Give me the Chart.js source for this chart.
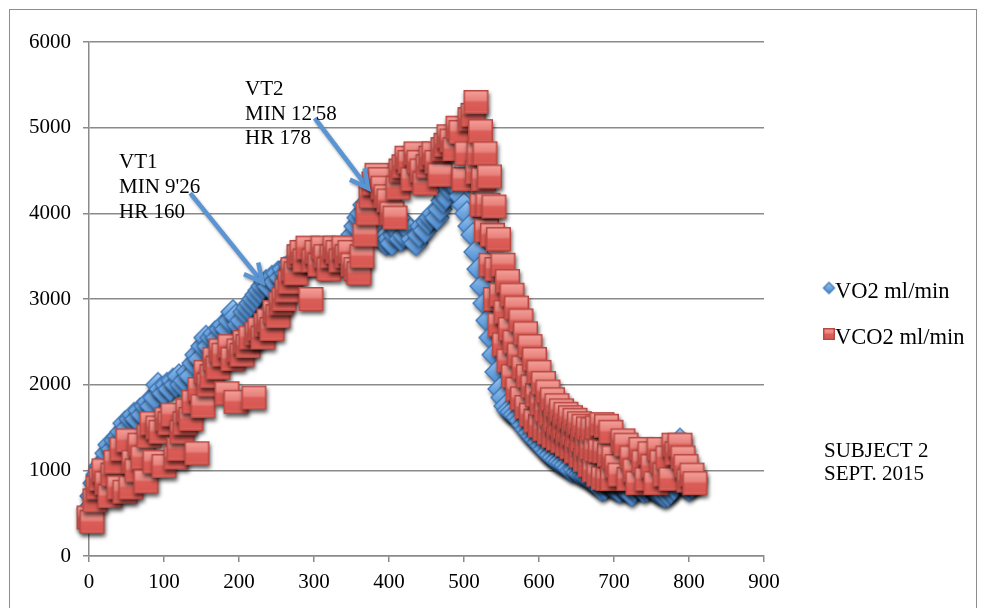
<!DOCTYPE html>
<html>
<head>
<meta charset="utf-8">
<script src="https://cdn.jsdelivr.net/npm/chart.js@4.4.1/dist/chart.umd.min.js"></script>
<style>
html,body{margin:0;padding:0;background:#fff;}
#wrap{width:987px;height:608px;position:relative;}
</style>
</head>
<body>
<div id="wrap"><canvas id="c" width="987" height="608"></canvas></div>
<script>
// ---- data (seconds, ml/min) ----
const timeVO2 = [
  0,4,8,12,16,20,24,28,32,36,
  40,44,48,52,56,60,64,68,72,76,
  80,84,88,92,96,100,104,108,112,116,
  120,124,128,132,136,140,144,148,152,156,
  160,164,168,172,176,180,184,188,192,196,
  200,204,208,212,216,220,224,228,232,236,
  240,244,248,252,256,260,264,268,272,276,
  280,284,288,292,296,300,304,308,312,316,
  320,324,328,332,336,340,344,348,352,356,
  360,364,368,372,376,380,384,388,392,396,
  400,404,408,412,416,420,424,428,432,436,
  440,444,448,452,456,460,464,468,472,476,
  480,484,488,492,496,500,504,508,512,516,
  520,524,528,532,536,540,544,548,552,556,
  560,564,568,572,576,580,584,588,592,596,
  600,604,608,612,616,620,624,628,632,636,
  640,644,648,652,656,660,664,668,672,676,
  680,684,688,692,696,700,704,708,712,716,
  720,724,728,732,736,740,744,748,752,756,
  760,764,768,772,776,780,784,788,792,796,
  800,804,808
];
const vo2 = [
  550,700,850,950,1050,1100,1200,1300,1250,1350,
  1400,1450,1550,1500,1600,1650,1600,1700,1650,1750,
  1800,1750,1850,2000,1950,1900,2000,1950,2050,2000,
  2100,2000,2050,2150,2100,2250,2350,2300,2450,2550,
  2450,2550,2600,2550,2650,2700,2650,2750,2850,2800,
  2700,2750,2850,2900,2950,3000,3050,3100,3150,3200,
  3150,3250,3200,3300,3250,3350,3300,3400,3350,3450,
  3400,3500,3450,3400,3500,3450,3550,3400,3500,3450,
  3500,3450,3550,3500,3450,3550,3600,3650,3750,3850,
  3950,4000,4100,4050,3950,3900,3850,3750,3700,3650,
  3700,3650,3750,3800,3700,3750,3850,3800,3700,3650,
  3750,3850,3800,3900,3950,4000,3950,4050,4150,4200,
  4300,4350,4400,4300,4200,4100,4000,3850,3750,3550,
  3350,3150,2950,2750,2550,2350,2150,1950,1850,1750,
  1700,1680,1650,1620,1580,1530,1480,1440,1400,1360,
  1330,1290,1250,1210,1180,1150,1120,1100,1080,1060,
  1030,1000,1010,980,960,950,930,900,880,860,
  820,780,800,850,830,800,780,760,800,780,
  750,720,780,820,800,760,780,820,790,760,
  740,720,700,720,760,800,850,1350,900,820,
  780,820,900
];
const timeVCO2 = [
  0,4,8,12,16,20,24,28,32,36,
  40,44,48,52,56,60,64,68,72,76,
  80,84,88,92,96,100,104,108,112,116,
  120,124,128,132,136,140,144,148,152,156,
  160,164,168,172,176,180,184,188,192,196,
  200,204,208,212,216,220,224,228,232,236,
  240,244,248,252,256,260,264,268,272,276,
  280,284,288,292,296,300,304,308,312,316,
  320,324,328,332,336,340,344,348,352,356,
  360,364,368,372,376,380,384,388,392,396,
  400,404,408,412,416,420,424,428,432,436,
  440,444,448,452,456,460,464,468,472,476,
  480,484,488,492,496,500,504,508,512,
  516,518,520,522,524,526,528,530,532,534,
  536,538,540,542,544,546,548,550,552,554,
  556,558,560,562,564,566,568,570,572,574,
  576,578,580,582,584,586,588,590,592,594,
  596,598,600,602,604,606,608,610,612,614,
  616,618,620,622,624,626,628,630,632,634,
  636,638,640,642,644,646,648,650,652,654,
  656,658,660,662,664,666,668,670,672,674,
  676,678,680,682,684,686,688,690,692,694,
  696,698,700,
  704,708,712,716,
  720,724,728,732,736,740,744,748,752,756,
  760,764,768,772,776,780,784,788,792,796,
  800,804,808
];
const vco2 = [
  450,400,650,800,900,1000,850,700,950,1100,
  800,1250,750,1350,800,1100,1000,1300,1150,870,
  1400,1550,1100,1500,1450,1050,1600,1550,1650,1150,
  1250,1450,1550,1700,1600,1800,1200,1950,1750,2150,
  2000,2100,2300,2200,2400,2350,1900,2450,2300,1800,
  2400,2350,2500,2450,2550,1850,2600,2650,2550,2700,
  2750,2650,2850,2800,2950,3000,3100,3200,3350,3300,
  3500,3550,3450,3600,3000,3450,3550,3400,3600,3500,
  3350,3500,3600,3550,3450,3600,3500,3550,3400,3350,
  3300,3500,3750,4000,4200,4350,4450,4400,4300,4200,
  4150,4000,3950,4300,4500,4550,4650,4600,4400,4700,
  4600,4500,4350,4550,4650,4700,4600,4450,4750,4800,
  4900,4850,4750,5000,4950,4400,4700,5100,5150,
  5300,4480,4700,4960,4100,4400,4700,3800,4100,4430,
  3400,3750,4080,3000,3350,3700,2700,3050,3400,2470,
  2850,3210,2280,2650,3050,2100,2500,2900,1950,2350,
  2750,1840,2200,2600,1740,2100,2450,1650,1980,2300,
  1580,1880,2150,1520,1780,2020,1480,1700,1920,1440,
  1650,1830,1400,1580,1760,1370,1540,1700,1340,1500,
  1660,1300,1460,1620,1270,1430,1590,1220,1400,1550,
  1170,1350,1520,1120,1300,1490,1060,1260,1480,1000,
  1240,1500,950,1230,1540,910,1220,1520,900,1180,
  1450,900,1150,
  1050,950,1350,1300,
  900,1150,1000,850,1250,1100,900,1200,1050,850,
  1250,1100,950,1150,900,1300,1200,1300,1150,1050,
  880,950,850
];
const seriesNames = ['VO2 ml/min', 'VCO2 ml/min'];
const xTickValues = [0,100,200,300,400,500,600,700,800,900];
const yTickValues = [0,1000,2000,3000,4000,5000,6000];
const vt1Lines = ['VT1', "MIN 9'26", 'HR 160'];
const vt2Lines = ['VT2', "MIN 12'58", 'HR 178'];
const noteLines = ['SUBJECT 2', 'SEPT. 2015'];
// annotation anchors in data units
const vt1Text = {x: 40, y: 4529};
const vt2Text = {x: 208, y: 5381};
const vt1Arrow = {x1: 135, y1: 4236, x2: 231, y2: 3197};
const vt2Arrow = {x1: 301, y1: 5111, x2: 372, y2: 4294};

const FONT = '"Liberation Serif", "Times New Roman", serif';

// ---- marker images ----
function makeSquare(w, h, pad, shadow) {
  const c = document.createElement('canvas');
  c.width = w + 2 * pad; c.height = h + 2 * pad;
  const g = c.getContext('2d');
  const x0 = pad, y0 = pad;
  if (shadow) {
    g.save();
    g.shadowColor = 'rgba(0,0,0,0.65)'; g.shadowBlur = 4; g.shadowOffsetX = 1; g.shadowOffsetY = 3;
    g.fillStyle = '#c04c47'; g.fillRect(x0, y0, w, h);
    g.restore();
  }
  const gr = g.createLinearGradient(0, y0, 0, y0 + h);
  gr.addColorStop(0, '#F3A29C');
  gr.addColorStop(0.42, '#E9827C');
  gr.addColorStop(0.52, '#DC5E58');
  gr.addColorStop(0.85, '#D85852');
  gr.addColorStop(1, '#E37A74');
  g.fillStyle = gr; g.fillRect(x0, y0, w, h);
  g.strokeStyle = '#BA4843'; g.lineWidth = 1.5;
  g.strokeRect(x0 + 0.75, y0 + 0.75, w - 1.5, h - 1.5);
  return c;
}
function makeDiamond(d, pad, shadow) {
  const c = document.createElement('canvas');
  c.width = c.height = 2 * d + 2 * pad;
  const g = c.getContext('2d');
  const cx = d + pad, cy = d + pad;
  const path = () => { g.beginPath(); g.moveTo(cx, cy - d); g.lineTo(cx + d, cy); g.lineTo(cx, cy + d); g.lineTo(cx - d, cy); g.closePath(); };
  if (shadow) {
    g.save();
    g.shadowColor = 'rgba(0,0,0,0.65)'; g.shadowBlur = 4; g.shadowOffsetX = 1; g.shadowOffsetY = 3;
    path(); g.fillStyle = '#4a82c2'; g.fill();
    g.restore();
  }
  const gr = g.createLinearGradient(0, cy - d, 0, cy + d);
  gr.addColorStop(0, '#A2C8EF');
  gr.addColorStop(0.5, '#6EA5DF');
  gr.addColorStop(1, '#4C8BD0');
  path(); g.fillStyle = gr; g.fill();
  g.strokeStyle = '#3F78B8'; g.lineWidth = 1.3; g.stroke();
  return c;
}
const sqImg = makeSquare(25, 24, 8, true);
const diaImg = makeDiamond(12, 8, true);
const sqLegend = makeSquare(12, 12, 2, false);
const diaLegend = makeDiamond(5.5, 2, false);

function arrow(ctx, x1, y1, x2, y2) {
  ctx.save();
  ctx.strokeStyle = '#5A94D3';
  ctx.lineWidth = 4.5;
  ctx.lineCap = 'butt';
  ctx.lineJoin = 'miter';
  ctx.shadowColor = 'rgba(0,0,0,0.35)'; ctx.shadowBlur = 3; ctx.shadowOffsetX = 1; ctx.shadowOffsetY = 2;
  const ang = Math.atan2(y2 - y1, x2 - x1);
  ctx.beginPath();
  ctx.moveTo(x1, y1);
  ctx.lineTo(x2 - Math.cos(ang) * 2, y2 - Math.sin(ang) * 2);
  ctx.stroke();
  const L = 20, a = 0.48;
  ctx.beginPath();
  ctx.moveTo(x2 - L * Math.cos(ang - a), y2 - L * Math.sin(ang - a));
  ctx.lineTo(x2, y2);
  ctx.lineTo(x2 - L * Math.cos(ang + a), y2 - L * Math.sin(ang + a));
  ctx.stroke();
  ctx.restore();
}

const decor = {
  id: 'decor',
  beforeDraw(chart) {
    const ctx = chart.ctx;
    ctx.save();
    ctx.fillStyle = '#fff';
    ctx.fillRect(0, 0, chart.width, chart.height);
    ctx.strokeStyle = '#8d8d8d';
    ctx.lineWidth = 1;
    ctx.strokeRect(9.5, 9.5, 967, 620);
    ctx.restore();
  },
  afterDraw(chart) {
    const ctx = chart.ctx;
    const xs = chart.scales.x, ys = chart.scales.y;
    const px = v => xs.getPixelForValue(v), py = v => ys.getPixelForValue(v);
    arrow(ctx, px(vt1Arrow.x1), py(vt1Arrow.y1), px(vt1Arrow.x2), py(vt1Arrow.y2));
    arrow(ctx, px(vt2Arrow.x1), py(vt2Arrow.y1), px(vt2Arrow.x2), py(vt2Arrow.y2));
    ctx.save();
    ctx.fillStyle = '#000';
    ctx.font = '21px ' + FONT;
    ctx.textBaseline = 'alphabetic';
    ctx.textAlign = 'left';
    vt1Lines.forEach((t, i) => ctx.fillText(t, px(vt1Text.x), py(vt1Text.y) + i * 25));
    vt2Lines.forEach((t, i) => ctx.fillText(t, px(vt2Text.x), py(vt2Text.y) + i * 24.5));
    noteLines.forEach((t, i) => ctx.fillText(t, 824, 457 + i * 23));
    // legend
    ctx.font = '22.5px ' + FONT;
    const imgs = [diaLegend, sqLegend];
    const rows = [288, 334];
    seriesNames.forEach((name, i) => {
      const im = imgs[i];
      ctx.drawImage(im, 829 - im.width / 2, rows[i] - im.height / 2);
      ctx.fillText(name, 835, rows[i] + 10);
    });
    ctx.restore();
  }
};

const points = (ts, arr) => arr.map((v, i) => ({x: ts[i], y: v}));

new Chart(document.getElementById('c'), {
  type: 'scatter',
  data: {
    datasets: [
      {label: seriesNames[0], data: points(timeVO2, vo2), pointStyle: diaImg, pointRadius: 12, order: 2, clip: false, showLine: false},
      {label: seriesNames[1], data: points(timeVCO2, vco2), pointStyle: sqImg, pointRadius: 12, order: 1, clip: false, showLine: false}
    ]
  },
  options: {
    responsive: false,
    devicePixelRatio: 1,
    animation: false,
    events: [],
    layout: {padding: {left: 0, top: 42, right: 223, bottom: 0}},
    plugins: {legend: {display: false}, tooltip: {enabled: false}, title: {display: false}},
    scales: {
      x: {
        type: 'linear', min: 0, max: 900,
        afterFit: s => { s.height = 52; },
        afterBuildTicks: s => { s.ticks = xTickValues.map(v => ({value: v})); },
        grid: {drawOnChartArea: false, drawTicks: true, tickLength: 6, color: '#8a8a8a', lineWidth: 1.5},
        border: {display: true, color: '#8a8a8a', width: 1.5},
        ticks: {color: '#000', font: {family: FONT, size: 21}, padding: 8, maxRotation: 0, autoSkip: false, callback: v => String(v)}
      },
      y: {
        type: 'linear', min: 0, max: 6000,
        afterFit: s => { s.width = 89; },
        afterBuildTicks: s => { s.ticks = yTickValues.map(v => ({value: v})); },
        grid: {drawOnChartArea: true, drawTicks: true, tickLength: 6, color: '#8a8a8a', lineWidth: 1.5},
        border: {display: true, color: '#8a8a8a', width: 1.5},
        ticks: {color: '#000', font: {family: FONT, size: 21}, padding: 12, callback: v => String(v)}
      }
    }
  },
  plugins: [decor]
});
</script>
</body>
</html>
